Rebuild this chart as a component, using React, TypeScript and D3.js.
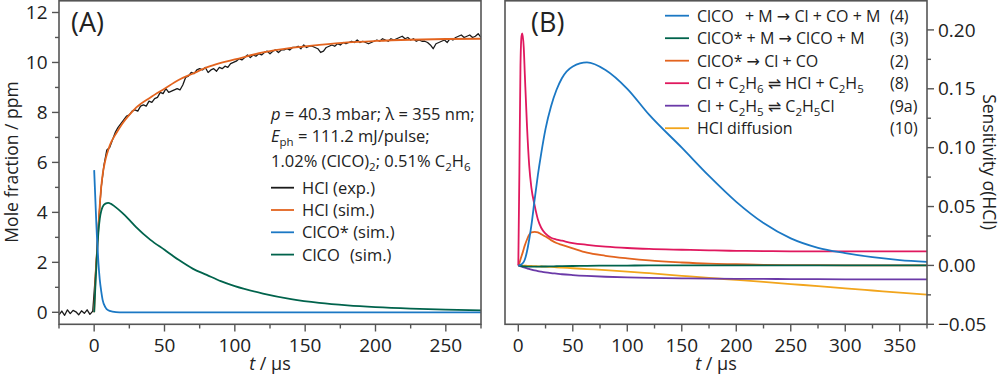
import React from 'react';
import * as d3 from 'd3';

// ---- panel (A): mole fractions ----
const expStart = -25;
const expStep = 2;
const hclExp = [
  -0.1, 0.05, -0.12, 0.1, -0.05, 0.08, 0.02, -0.1, 0.06, -0.04,
  0.1, -0.08, 0.05, 1.6, 3.5, 5.0, 5.9, 6.5, 6.6, 6.9,
  7.2, 7.4, 7.55, 7.7, 7.85, 7.9, 8.05, 8.1, 8.05, 8.25,
  8.3, 8.25, 8.45, 8.4, 8.55, 8.6, 8.8, 8.75, 8.95, 8.8,
  8.85, 8.9, 8.95, 8.9, 9.1, 9.4, 9.45, 9.6, 9.55, 9.7,
  9.75, 9.7, 9.8, 9.6, 9.7, 9.75, 9.65, 9.8, 9.75, 9.85,
  9.8, 9.95, 10.0, 10.05, 10.15, 10.1, 10.2, 10.3, 10.2, 10.3,
  10.25, 10.35, 10.3, 10.4, 10.45, 10.35, 10.45, 10.5, 10.4, 10.5,
  10.5, 10.55, 10.5, 10.6, 10.6, 10.65, 10.55, 10.7, 10.6, 10.65,
  10.65, 10.6, 10.55, 10.4, 10.45, 10.6, 10.65, 10.7, 10.65, 10.75,
  10.7, 10.8, 10.75, 10.8, 10.85, 10.8, 10.9, 10.8, 10.85, 10.8,
  10.75, 10.8, 10.85, 10.9, 10.85, 10.95, 10.9, 10.85, 10.95, 10.9,
  10.95, 11.0, 11.05, 10.95, 11.0, 10.9, 10.95, 10.85, 10.9, 10.85,
  10.85, 10.8, 10.7, 10.55, 10.75, 10.8, 10.85, 10.9, 10.8, 10.95,
  10.9, 11.0, 11.05, 11.1, 11.0, 11.05, 11.1, 11.0, 11.05, 11.15,
  11.0,
];

const simTime = [0, 1, 2, 3, 4, 5, 6, 8, 10, 12, 15, 20, 25, 30, 40, 50, 60, 70, 80, 90, 100, 120, 140, 160, 180, 200, 225, 250, 275];
const hclSim = [0, 1.5, 2.4, 3.4, 4.3, 5.0, 5.5, 6.1, 6.5, 6.8, 7.1, 7.55, 7.9, 8.2, 8.6, 8.95, 9.3, 9.55, 9.8, 9.98, 10.12, 10.4, 10.58, 10.7, 10.8, 10.86, 10.91, 10.94, 10.95];
const clcoSim = [0, 1.2, 2.3, 3.2, 3.75, 4.05, 4.22, 4.35, 4.38, 4.34, 4.22, 3.98, 3.7, 3.4, 2.9, 2.5, 2.1, 1.75, 1.5, 1.25, 1.05, 0.75, 0.53, 0.38, 0.28, 0.21, 0.15, 0.11, 0.08];

const starTime = [0, 0.5, 1, 1.5, 2, 3, 4, 5, 6, 8, 10, 13, 18, 25, 275];
const clcoStar = [5.69, 5.0, 4.3, 3.6, 3.0, 2.0, 1.3, 0.85, 0.5, 0.2, 0.08, 0.03, 0, 0, 0];

// ---- panel (B): sensitivities ----
const sensTime = [0, 1, 2, 3, 3.7, 5, 6, 8, 10, 12, 15, 18, 21, 25, 30, 35, 40, 50, 63, 80, 100, 120, 150, 175, 200, 225, 250, 275, 300, 325, 350, 375];
const sens4 = [0, 0, 0.0005, 0.001, 0.0015, 0.003, 0.005, 0.012, 0.022, 0.034, 0.056, 0.077, 0.095, 0.116, 0.135, 0.149, 0.159, 0.169, 0.1724, 0.166, 0.15, 0.128, 0.1, 0.076, 0.054, 0.036, 0.023, 0.015, 0.0105, 0.007, 0.0045, 0.003];
const sens3 = [0, -0.0002, -0.0004, -0.0006, -0.0007, -0.0008, -0.0009, -0.001, -0.001, -0.001, -0.001, -0.001, -0.0009, -0.0009, -0.0008, -0.0007, -0.0006, -0.0005, -0.0003, -0.0002, -0.0001, 0, 0, 0, 0, 0, 0, 0, 0, 0, 0, 0];
const sens2 = [0, 0.002, 0.005, 0.008, 0.01, 0.014, 0.017, 0.022, 0.026, 0.028, 0.0285, 0.028, 0.0265, 0.0245, 0.0215, 0.019, 0.0175, 0.0145, 0.0108, 0.0082, 0.006, 0.0042, 0.0025, 0.0015, 0.001, 0.0005, 0.0003, 0.0002, 0.0001, 0, 0, 0];
const sens8 = [0, 0.08, 0.17, 0.195, 0.197, 0.185, 0.162, 0.118, 0.085, 0.066, 0.051, 0.039, 0.032, 0.027, 0.0235, 0.022, 0.021, 0.019, 0.0175, 0.016, 0.0148, 0.014, 0.0133, 0.0128, 0.0124, 0.0122, 0.012, 0.012, 0.012, 0.012, 0.012, 0.012];
const sens9a = [0, -0.0003, -0.0006, -0.001, -0.0012, -0.0016, -0.0019, -0.0025, -0.003, -0.0035, -0.0042, -0.0048, -0.0053, -0.0059, -0.0065, -0.007, -0.0075, -0.0082, -0.0089, -0.0096, -0.0102, -0.0106, -0.011, -0.0112, -0.0114, -0.0115, -0.0116, -0.0117, -0.0118, -0.0118, -0.0119, -0.0119];
const sens10 = [0, 0, -0.0001, -0.0001, -0.0001, -0.0002, -0.0002, -0.0003, -0.0004, -0.0005, -0.0006, -0.0008, -0.0009, -0.0011, -0.0013, -0.0016, -0.0019, -0.0024, -0.0031, -0.004, -0.0052, -0.0066, -0.0088, -0.0106, -0.0123, -0.014, -0.0158, -0.0176, -0.0195, -0.0213, -0.0231, -0.0248];

// ticks
const xTicksA = [0, 50, 100, 150, 200, 250];
const xMinorA = [-25, 25, 75, 125, 175, 225, 275];
const yTicksA = [0, 2, 4, 6, 8, 10, 12];
const yMinorA = [1, 3, 5, 7, 9, 11];
const xTicksB = [0, 50, 100, 150, 200, 250, 300, 350];
const xMinorB = [25, 75, 125, 175, 225, 275, 325, 375];
const yTicksB = [-0.05, 0, 0.05, 0.1, 0.15, 0.2];
const yMinorB = [-0.025, 0.025, 0.075, 0.125, 0.175];

const FONT = "'Open Sans', 'DejaVu Sans', sans-serif";
const AXIS = '#555';
const INK = '#222';
const C = {
  black: '#1a1a1a',
  orange: '#E3641F',
  blue: '#1B78C4',
  green: '#00634C',
  pink: '#E0185E',
  purple: '#6B3AA8',
  yellow: '#F2A51C',
};

const xA = d3.scaleLinear().domain([-25, 275]).range([59, 481]);
const yA = d3.scaleLinear().domain([-0.48, 12.5]).range([324.3, 0]);
const xB = d3.scaleLinear().domain([-12.2, 375]).range([505, 927]);
const yB = d3.scaleLinear().domain([-0.05, 0.2254]).range([324.3, 0]);

const pathOf = (ts: number[], vs: number[], x: any, y: any, curve: any = d3.curveMonotoneX) =>
  d3.line<number>().x((_, i) => x(ts[i])).y((v) => y(v)).curve(curve)(vs) || '';

const expTime = hclExp.map((_, i) => expStart + i * expStep);

const legendA = [
  { label: 'HCl (exp.)', color: C.black },
  { label: 'HCl (sim.)', color: C.orange },
  { label: 'ClCO* (sim.)', color: C.blue },
  { label: 'ClCO', tail: '(sim.)', color: C.green },
];

const sub = (s: string) => (
  <tspan fontSize="11.5" dy="4">{s}</tspan>
);

const legendB = [
  { color: C.blue, num: '(4)', text: <>ClCO<tspan x={745}>+ M → Cl + CO + M</tspan></> },
  { color: C.green, num: '(3)', text: <>ClCO* + M → ClCO + M</> },
  { color: C.orange, num: '(2)', text: <>ClCO* → Cl + CO</> },
  {
    color: C.pink, num: '(8)',
    text: <>Cl + C{sub('2')}<tspan dy="-4">H</tspan>{sub('6')}<tspan dy="-4"> ⇌ HCl + C</tspan>{sub('2')}<tspan dy="-4">H</tspan>{sub('5')}</>,
  },
  {
    color: C.purple, num: '(9a)',
    text: <>Cl + C{sub('2')}<tspan dy="-4">H</tspan>{sub('5')}<tspan dy="-4"> ⇌ C</tspan>{sub('2')}<tspan dy="-4">H</tspan>{sub('5')}<tspan dy="-4">Cl</tspan></>,
  },
  { color: C.yellow, num: '(10)', text: <>HCl diffusion</> },
];

const fmtB = (v: number) => (Math.abs(v) < 1e-9 ? '0.00' : d3.format('.2f')(v));

export default function App() {
  return (
    <svg width={1000} height={374} style={{ position: 'absolute', left: 0, top: 0, background: '#fff' }}
      fontFamily={FONT}>
      <defs>
        <clipPath id="clipA"><rect x={59} y={0} width={422} height={324.3} /></clipPath>
        <clipPath id="clipB"><rect x={505} y={0} width={422} height={324.3} /></clipPath>
      </defs>

      {/* ---------- panel A ---------- */}
      <g clipPath="url(#clipA)" fill="none" strokeLinejoin="round">
        <path d={pathOf(expTime, hclExp, xA, yA, d3.curveLinear)} stroke={C.black} strokeWidth={1.3} />
        <path d={pathOf(simTime, hclSim, xA, yA)} stroke={C.orange} strokeWidth={1.8} />
        <path d={pathOf(simTime, clcoSim, xA, yA)} stroke={C.green} strokeWidth={1.8} />
        <path d={pathOf(starTime, clcoStar, xA, yA)} stroke={C.blue} strokeWidth={1.8} />
      </g>
      <rect x={59} y={0.8} width={422} height={323.5} fill="none" stroke={AXIS} strokeWidth={1.6} />
      {xTicksA.map((t) => (
        <g key={'xa' + t}>
          <line x1={xA(t)} x2={xA(t)} y1={324.3} y2={331.5} stroke={AXIS} strokeWidth={1.4} />
          <text x={xA(t)} y={351.5} textAnchor="middle" fontSize={19} fill={INK}>{t}</text>
        </g>
      ))}
      {xMinorA.map((t) => (
        <line key={'xam' + t} x1={xA(t)} x2={xA(t)} y1={324.3} y2={328.5} stroke={AXIS} strokeWidth={1.4} />
      ))}
      {yTicksA.map((v) => (
        <g key={'ya' + v}>
          <line x1={52} x2={59} y1={yA(v)} y2={yA(v)} stroke={AXIS} strokeWidth={1.4} />
          <text x={47.5} y={yA(v) + 6.6} textAnchor="end" fontSize={19} fill={INK}>{v}</text>
        </g>
      ))}
      {yMinorA.map((v) => (
        <line key={'yam' + v} x1={55} x2={59} y1={yA(v)} y2={yA(v)} stroke={AXIS} strokeWidth={1.4} />
      ))}
      <text x={270} y={370} textAnchor="middle" fontSize={18} fill={INK}>
        <tspan fontStyle="italic">t</tspan> / μs
      </text>
      <text transform="translate(18,162) rotate(-90)" textAnchor="middle" fontSize={17.5} fill={INK}>
        Mole fraction / ppm
      </text>
      <text x={71} y={32} fontSize={27} fill={INK}>(A)</text>

      <g fontSize={16.5} fill={INK}>
        <text x={271} y={120}>
          <tspan fontStyle="italic">p</tspan> = 40.3 mbar; λ = 355 nm;
        </text>
        <text x={271} y={142}>
          <tspan fontStyle="italic">E</tspan>{sub('ph')}<tspan dy="-4"> = 111.2 mJ/pulse;</tspan>
        </text>
        <text x={271} y={166.5}>
          1.02% (ClCO){sub('2')}<tspan dy="-4">; 0.51% C</tspan>{sub('2')}<tspan dy="-4">H</tspan>{sub('6')}
        </text>
        {legendA.map((d, i) => {
          const y = 187.7 + i * 22.3;
          return (
            <g key={d.label + i}>
              <line x1={271} x2={294} y1={y} y2={y} stroke={d.color} strokeWidth={1.8} />
              <text x={302} y={y + 6}>
                {d.label}
                {d.tail && <tspan x={350}>{d.tail}</tspan>}
              </text>
            </g>
          );
        })}
      </g>

      {/* ---------- panel B ---------- */}
      <g clipPath="url(#clipB)" fill="none" strokeLinejoin="round">
        <path d={pathOf(sensTime, sens10, xB, yB)} stroke={C.yellow} strokeWidth={1.8} />
        <path d={pathOf(sensTime, sens9a, xB, yB)} stroke={C.purple} strokeWidth={1.8} />
        <path d={pathOf(sensTime, sens2, xB, yB)} stroke={C.orange} strokeWidth={1.8} />
        <path d={pathOf(sensTime, sens3, xB, yB)} stroke={C.green} strokeWidth={1.8} />
        <path d={pathOf(sensTime, sens8, xB, yB)} stroke={C.pink} strokeWidth={1.8} />
        <path d={pathOf(sensTime, sens4, xB, yB)} stroke={C.blue} strokeWidth={1.8} />
      </g>
      <rect x={505} y={0.8} width={422} height={323.5} fill="none" stroke={AXIS} strokeWidth={1.6} />
      {xTicksB.map((t) => (
        <g key={'xb' + t}>
          <line x1={xB(t)} x2={xB(t)} y1={324.3} y2={331.5} stroke={AXIS} strokeWidth={1.4} />
          <text x={xB(t)} y={351.5} textAnchor="middle" fontSize={19} fill={INK}>{t}</text>
        </g>
      ))}
      {xMinorB.map((t) => (
        <line key={'xbm' + t} x1={xB(t)} x2={xB(t)} y1={324.3} y2={328.5} stroke={AXIS} strokeWidth={1.4} />
      ))}
      {yTicksB.map((v) => (
        <g key={'yb' + v}>
          <line x1={927} x2={934} y1={yB(v)} y2={yB(v)} stroke={AXIS} strokeWidth={1.4} />
          <text x={938} y={yB(v) + 6.6} fontSize={19} fill={INK}>{fmtB(v)}</text>
        </g>
      ))}
      {yMinorB.map((v) => (
        <line key={'ybm' + v} x1={927} x2={931} y1={yB(v)} y2={yB(v)} stroke={AXIS} strokeWidth={1.4} />
      ))}
      <text x={716} y={370} textAnchor="middle" fontSize={18} fill={INK}>
        <tspan fontStyle="italic">t</tspan> / μs
      </text>
      <text transform="translate(983,162) rotate(90)" textAnchor="middle" fontSize={17.5} fill={INK}>
        Sensitivity σ(HCl)
      </text>
      <text x={531} y={32} fontSize={27} fill={INK}>(B)</text>

      <g fontSize={16} fill={INK}>
        {legendB.map((d, i) => {
          const y = 15.7 + i * 22.5;
          return (
            <g key={d.num}>
              <line x1={665} x2={689} y1={y} y2={y} stroke={d.color} strokeWidth={1.8} />
              <text x={697} y={y + 6}>{d.text}</text>
              <text x={890} y={y + 6}>{d.num}</text>
            </g>
          );
        })}
      </g>
    </svg>
  );
}
